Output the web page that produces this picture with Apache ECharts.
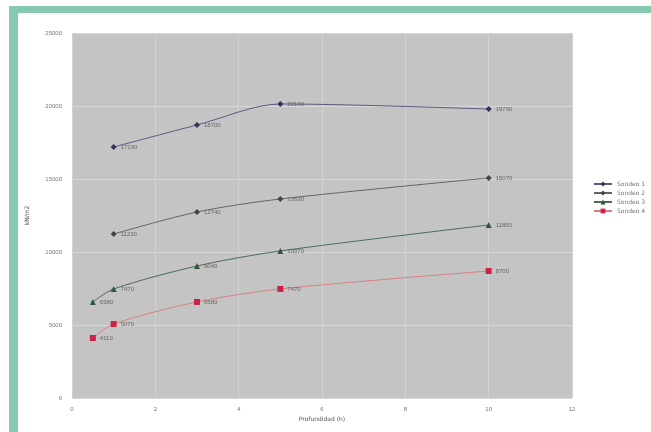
<!DOCTYPE html>
<html><head><meta charset="utf-8">
<script src="https://cdn.jsdelivr.net/npm/echarts@6/dist/echarts.min.js"></script>
<style>html,body{margin:0;padding:0;background:#fff}#c{width:651px;height:432px}</style>
</head><body><div id="c"></div>
<script>
const seriesNames = ['Sondeo 1', 'Sondeo 2', 'Sondeo 3', 'Sondeo 4'];
const xs1 = [1, 3, 5, 10];
const ys1 = [17190, 18700, 20140, 19790];
const xs2 = [1, 3, 5, 10];
const ys2 = [11230, 12740, 13630, 15070];
const xs3 = [0.5, 1, 3, 5, 10];
const ys3 = [6580, 7470, 9040, 10070, 11850];
const xs4 = [0.5, 1, 3, 5, 10];
const ys4 = [4110, 5070, 6580, 7470, 8700];
const xTitle = 'Profundidad (h)';
const yTitle = 'kN/m2';

const xsAll = [xs1, xs2, xs3, xs4];
const ysAll = [ys1, ys2, ys3, ys4];
const lineColors = ['#5a5a80', '#666666', '#4d6b55', '#d98080'];
const markColors = ['#333355', '#444444', '#335540', '#cc2244'];
const symbols = ['diamond', 'diamond', 'triangle', 'rect'];

const chart = echarts.init(document.getElementById('c'));
chart.setOption({
  animation: false,
  backgroundColor: '#fff',
  graphic: [
    {type: 'rect', shape: {x: 9, y: 6, width: 642, height: 7}, style: {fill: '#86c8b0'}},
    {type: 'rect', shape: {x: 9, y: 6, width: 9, height: 426}, style: {fill: '#86c8b0'}}
  ],
  grid: {left: 72, top: 33, width: 500, height: 365, show: true, backgroundColor: '#c4c4c4', borderWidth: 0},
  legend: {
    orient: 'vertical', left: 588, top: 176, itemGap: 3, itemWidth: 18, itemHeight: 6,
    textStyle: {fontSize: 6, color: '#777', fontFamily: 'DejaVu Sans'},
    data: seriesNames
  },
  xAxis: {
    type: 'value', min: 0, max: 12, interval: 2,
    name: xTitle, nameLocation: 'middle', nameGap: 18,
    nameTextStyle: {fontSize: 6, color: '#555', fontFamily: 'DejaVu Sans'},
    axisLine: {show: false}, axisTick: {show: false},
    axisLabel: {fontSize: 6, color: '#777', margin: 8},
    splitLine: {show: true, lineStyle: {color: '#d2d2d2', width: 1}}
  },
  yAxis: {
    type: 'value', min: 0, max: 25000, interval: 5000,
    name: yTitle, nameLocation: 'middle', nameGap: 42, nameRotate: 90,
    nameTextStyle: {fontSize: 6, color: '#555', fontFamily: 'DejaVu Sans'},
    axisLine: {show: false}, axisTick: {show: false},
    axisLabel: {fontSize: 6, color: '#777', margin: 10, formatter: v => String(v)},
    splitLine: {show: true, lineStyle: {color: '#d8d8d8', width: 1}}
  },
  series: seriesNames.map((n, i) => ({
    name: n, type: 'line', smooth: 0.3,
    data: xsAll[i].map((x, j) => [x, ysAll[i][j]]),
    symbol: symbols[i], symbolSize: 6,
    lineStyle: {color: lineColors[i], width: 1},
    itemStyle: {color: markColors[i]},
    label: {show: true, position: 'right', distance: 4, fontSize: 6, color: '#666',
      formatter: p => String(p.value[1])}
  }))
});
</script></body></html>
